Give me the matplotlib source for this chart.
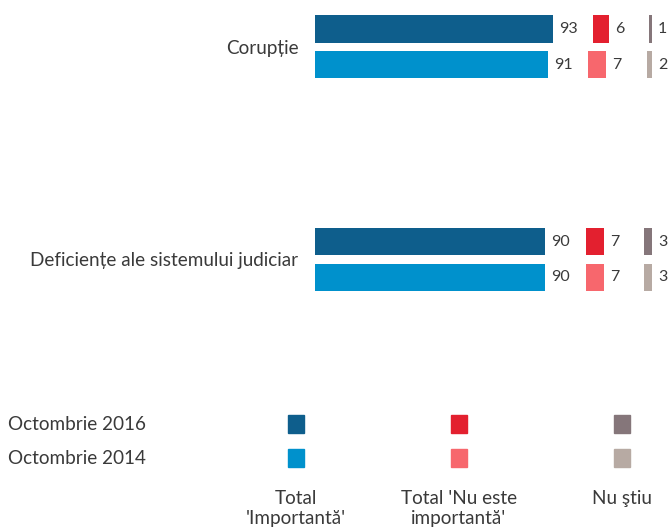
import matplotlib
matplotlib.use("Agg")
import matplotlib.pyplot as plt
from matplotlib.patches import Rectangle

plt.rcParams['font.family'] = ['Lato', 'DejaVu Sans']

# data
categories = ["Corupție", "Deficiențe ale sistemului judiciar"]
important_2016 = [93, 90]
important_2014 = [91, 90]
not_important_2016 = [6, 7]
not_important_2014 = [7, 7]
dont_know_2016 = [1, 3]
dont_know_2014 = [2, 3]

waves = ["Octombrie 2016", "Octombrie 2014"]
answers = ["Total\n'Importantă'", "Total 'Nu este\nimportantă'", "Nu ştiu"]

colors_2016 = ["#0e5e8c", "#e3202f", "#85767a"]
colors_2014 = ["#0091cc", "#f7676d", "#b7aaa3"]
TEXT = "#3a3a3a"

GAP = 15.9          # empty space between answer segments (data units)
BAR_H = 0.129
OFF = 0.0837

fig = plt.figure(figsize=(6.7, 5.3), dpi=100)
ax = fig.add_axes([315 / 670, 220 / 530, 355 / 670, 310 / 530])
ax.set_xlim(0, 138.9)
ax.set_ylim(1.2375, -0.22)


def draw_row(y, vals, cols):
    left = 0
    for v, c in zip(vals, cols):
        ax.barh(y, v, left=left, height=BAR_H, color=c, edgecolor='none')
        ax.text(left + v + 2.4, y, str(v), ha='left', va='center',
                fontsize=11.5, color=TEXT, clip_on=False)
        left += v + GAP


for i in range(len(categories)):
    draw_row(i - OFF, [important_2016[i], not_important_2016[i], dont_know_2016[i]], colors_2016)
    draw_row(i + OFF, [important_2014[i], not_important_2014[i], dont_know_2014[i]], colors_2014)

ax.set_yticks(range(len(categories)))
ax.set_yticklabels(categories, fontsize=13.6, color=TEXT)
ax.tick_params(axis='y', length=0, pad=12)
ax.set_xticks([])
for s in ax.spines.values():
    s.set_visible(False)

# legend table at the bottom
col_x = [296, 459, 622]
row_y = [424, 458]
for r, (wave, cols) in enumerate(zip(waves, [colors_2016, colors_2014])):
    fig.text(8 / 670, 1 - row_y[r] / 530, wave, ha='left', va='center',
             fontsize=13.6, color=TEXT)
    for x, c in zip(col_x, cols):
        fig.patches.append(Rectangle(((x - 8) / 670, 1 - (row_y[r] + 9) / 530),
                                     16 / 670, 18 / 530, color=c,
                                     transform=fig.transFigure, figure=fig))
for x, a in zip(col_x, answers):
    fig.text(x / 670, 1 - 490 / 530, a, ha='center', va='top',
             fontsize=13.6, color=TEXT, linespacing=1.2)

fig.savefig("out.png", dpi=100)
